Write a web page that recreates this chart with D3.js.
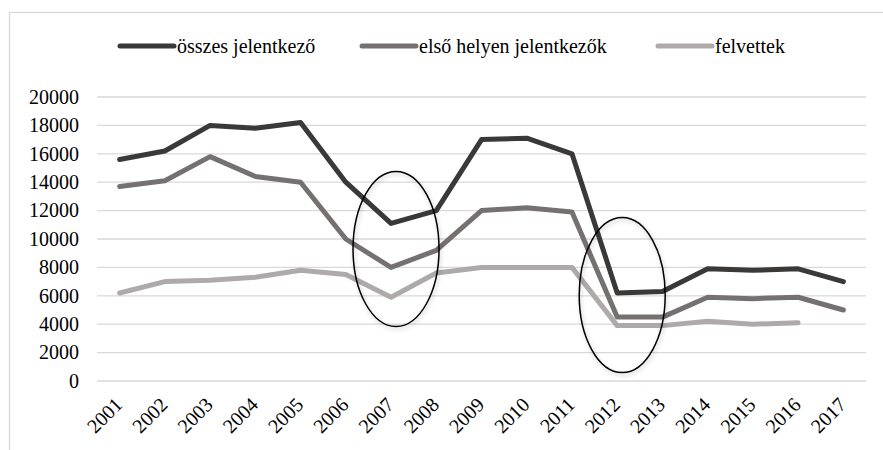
<!DOCTYPE html>
<html>
<head>
<meta charset="utf-8">
<script src="https://cdn.jsdelivr.net/npm/d3@7"></script>
</head>
<body style="margin:0">
<div id="chart"></div>
<script>
// data
const years = ['2001', '2002', '2003', '2004', '2005', '2006', '2007', '2008', '2009',
    '2010', '2011', '2012', '2013', '2014', '2015', '2016', '2017'];
const osszes = [15600, 16200, 18000, 17800, 18200, 14000, 11100, 12000, 17000,
    17100, 16000, 6200, 6300, 7900, 7800, 7900, 7000];
const elsoHelyen = [13700, 14100, 15800, 14400, 14000, 10000, 8000, 9200, 12000,
    12200, 11900, 4500, 4500, 5900, 5800, 5900, 5000];
const felvettek = [6200, 7000, 7100, 7300, 7800, 7500, 5900, 7600, 8000,
    8000, 8000, 3900, 3900, 4200, 4000, 4100, null];
const yTicks = [0, 2000, 4000, 6000, 8000, 10000, 12000, 14000, 16000, 18000, 20000];
const seriesNames = ['összes jelentkező', 'első helyen jelentkezők', 'felvettek'];
// kiemelt évek (ellipszisek): év + középérték
const highlightYears = ['2007', '2012'];
const highlightValues = [9300, 6050];

const W = 883;
const H = 450;
const COLORS = ['#3b3838', '#767171', '#aeaaaa'];
const LINE_W = 5;
const GRID = '#d9d9d9';
const FONT = 20;
const FONT_FAMILY = "'Liberation Serif', serif";

const svg = d3.select('#chart')
    .append('svg')
    .attr('width', W)
    .attr('height', H);

// közös szövegstílus
function txt(sel) {
    return sel
        .attr('font-family', FONT_FAMILY)
        .attr('font-size', FONT)
        .attr('fill', '#000');
}

const defs = svg.append('defs');
const shadow = defs.append('filter')
    .attr('id', 'shadow')
    .attr('x', '-20%').attr('y', '-20%')
    .attr('width', '140%').attr('height', '140%');
shadow.append('feDropShadow')
    .attr('dx', 1).attr('dy', 2)
    .attr('stdDeviation', 2)
    .attr('flood-color', '#000')
    .attr('flood-opacity', 0.25);

// chart area border
svg.append('rect')
    .attr('x', 9.5)
    .attr('y', 12.5)
    .attr('width', W)
    .attr('height', H)
    .attr('fill', 'none')
    .attr('stroke', GRID)
    .attr('stroke-width', 1.3);

const x = d3.scaleBand()
    .domain(years)
    .range([97, 866]);
const cx = d => x(d) + x.bandwidth() / 2;

const y = d3.scaleLinear()
    .domain([0, 20000])
    .range([381, 97]);

// gridlines
svg.append('g')
    .selectAll('line')
    .data(yTicks)
    .enter()
    .append('line')
    .attr('x1', 97)
    .attr('x2', 866)
    .attr('y1', d => y(d))
    .attr('y2', d => y(d))
    .attr('stroke', GRID)
    .attr('stroke-width', 1.3);

// y axis labels
svg.append('g')
    .selectAll('text')
    .data(yTicks)
    .enter()
    .append('text')
    .call(txt)
    .attr('x', 79)
    .attr('y', d => y(d))
    .attr('dy', '0.34em')
    .attr('text-anchor', 'end')
    .text(d => d);

// x axis labels
svg.append('g')
    .selectAll('text')
    .data(years)
    .enter()
    .append('text')
    .call(txt)
    .attr('text-anchor', 'end')
    .attr('transform', d => `translate(${cx(d) + 4},406) rotate(-45)`)
    .text(d => d);

// lines
const line = d3.line()
    .defined(d => d.v !== null)
    .x(d => cx(d.year))
    .y(d => y(d.v));

[osszes, elsoHelyen, felvettek].forEach((vals, i) => {
    svg.append('path')
        .datum(vals.map((v, j) => ({ year: years[j], v })))
        .attr('d', line)
        .attr('fill', 'none')
        .attr('stroke', COLORS[i])
        .attr('stroke-width', LINE_W)
        .attr('stroke-linejoin', 'round')
        .attr('stroke-linecap', 'round');
});

// ellipses
svg.append('g')
    .selectAll('ellipse')
    .data(highlightYears.map((yr, i) => ({ yr, v: highlightValues[i] })))
    .enter()
    .append('ellipse')
    .attr('cx', d => cx(d.yr) + 5)
    .attr('cy', d => y(d.v))
    .attr('rx', 43)
    .attr('ry', 77.5)
    .attr('fill', 'none')
    .attr('stroke', '#000')
    .attr('stroke-width', 1.5)
    .attr('filter', 'url(#shadow)');

// legend
const legendX = [120, 362, 658];
const legend = svg.append('g')
    .selectAll('g')
    .data(seriesNames)
    .enter()
    .append('g')
    .attr('transform', (d, i) => `translate(${legendX[i]},46)`);
legend.append('line')
    .attr('x1', 0)
    .attr('x2', 54)
    .attr('stroke', (d, i) => COLORS[i])
    .attr('stroke-width', LINE_W)
    .attr('stroke-linecap', 'round');
legend.append('text')
    .call(txt)
    .attr('x', 57)
    .attr('dy', '0.34em')
    .text(d => d);
</script>
</body>
</html>
